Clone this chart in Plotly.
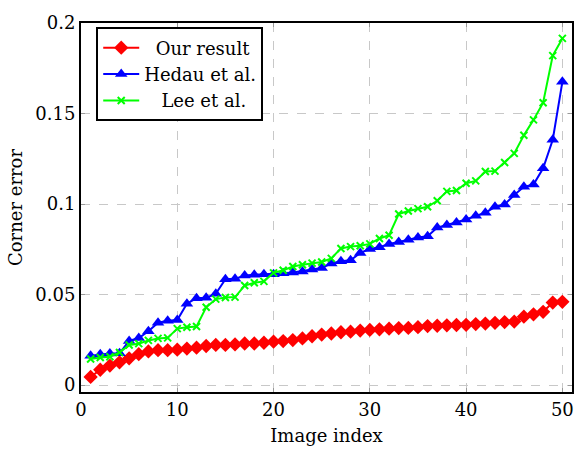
import plotly.graph_objects as go

image_index = list(range(1, 51))

our_result = [0.0045, 0.0085, 0.0108, 0.0126, 0.0148, 0.0171, 0.0186, 0.0193, 0.0193, 0.0196,
              0.0202, 0.0207, 0.0216, 0.0222, 0.0222, 0.0225, 0.0230, 0.0230, 0.0234, 0.0240,
              0.0243, 0.0249, 0.0258, 0.0270, 0.0279, 0.0285, 0.0292, 0.0295, 0.0301, 0.0305,
              0.0308, 0.0312, 0.0315, 0.0316, 0.0320, 0.0326, 0.0328, 0.0330, 0.0332, 0.0333,
              0.0337, 0.0340, 0.0344, 0.0348, 0.0351, 0.0378, 0.0391, 0.0405, 0.0456, 0.0460]

hedau = [0.0162, 0.0170, 0.0175, 0.0176, 0.0244, 0.0260, 0.0297, 0.0345, 0.0355, 0.0360,
         0.0450, 0.0480, 0.0482, 0.0505, 0.0585, 0.0587, 0.0605, 0.0610, 0.0612, 0.0612,
         0.0618, 0.0622, 0.0628, 0.0638, 0.0647, 0.0672, 0.0684, 0.0690, 0.0730, 0.0752,
         0.0762, 0.0780, 0.0790, 0.0803, 0.0815, 0.0822, 0.0870, 0.0885, 0.0898, 0.0915,
         0.0935, 0.0952, 0.0985, 0.0998, 0.1050, 0.1095, 0.1108, 0.1198, 0.1355, 0.1675]

lee = [0.0144, 0.0153, 0.0157, 0.0180, 0.0222, 0.0229, 0.0247, 0.0258, 0.0261, 0.0312,
       0.0320, 0.0324, 0.0430, 0.0475, 0.0484, 0.0486, 0.0550, 0.0565, 0.0573, 0.0620,
       0.0634, 0.0655, 0.0665, 0.0674, 0.0680, 0.0700, 0.0755, 0.0765, 0.0770, 0.0780,
       0.0810, 0.0828, 0.0945, 0.0962, 0.0975, 0.0985, 0.1018, 0.1070, 0.1075, 0.1115,
       0.1128, 0.1180, 0.1182, 0.1230, 0.1280, 0.1380, 0.1465, 0.1560, 0.1820, 0.1915]

x_ticks = [0, 10, 20, 30, 40, 50]
y_ticks = [0, 0.05, 0.1, 0.15, 0.2]
y_tick_labels = ["0", "0.05", "0.1", "0.15", "0.2"]

FONT = "DejaVu Serif, Liberation Serif, serif"
FS = 18

fig = go.Figure()
fig.add_trace(go.Scatter(x=image_index, y=our_result, name="  Our result", mode="lines+markers",
                         line=dict(color="#ff0000", width=2),
                         marker=dict(symbol="diamond", size=11, color="#ff0000")))
fig.add_trace(go.Scatter(x=image_index, y=hedau, name="Hedau et al.", mode="lines+markers",
                         line=dict(color="#0000ff", width=2),
                         marker=dict(symbol="triangle-up", size=11, color="#0000ff")))
fig.add_trace(go.Scatter(x=image_index, y=lee, name="   Lee et al.", mode="lines+markers",
                         line=dict(color="#00ff00", width=2),
                         marker=dict(symbol="x-thin", size=7, color="#00ff00",
                                     line=dict(color="#00ff00", width=2))))

axis_common = dict(showline=True, linecolor="black", linewidth=2, mirror="ticks",
                   showgrid=True, gridcolor="#c8c8c8", griddash="dash", gridwidth=1,
                   zeroline=False, ticks="inside", ticklen=4, tickcolor="#999999",
                   tickfont=dict(family=FONT, size=FS, color="black"))

fig.update_xaxes(range=[0, 51], tickvals=x_ticks,
                 title=dict(text="Image index", font=dict(family=FONT, size=FS, color="black"), standoff=11),
                 **axis_common)
fig.update_yaxes(range=[-0.0038, 0.2], tickvals=y_ticks, ticktext=y_tick_labels,
                 title=dict(text="Corner error", font=dict(family=FONT, size=FS, color="black"), standoff=8),
                 **axis_common)

fig.update_layout(
    width=586, height=455,
    margin=dict(l=81, r=14, t=13, b=63),
    plot_bgcolor="white", paper_bgcolor="white",
    font=dict(family=FONT, size=FS, color="black"),
    legend=dict(x=0.031, y=0.988, xanchor="left", yanchor="top",
                bgcolor="white", bordercolor="black", borderwidth=2,
                font=dict(family=FONT, size=FS, color="black"),
                tracegroupgap=0, itemwidth=36),
    showlegend=True,
)

fig.write_html("out.html")
